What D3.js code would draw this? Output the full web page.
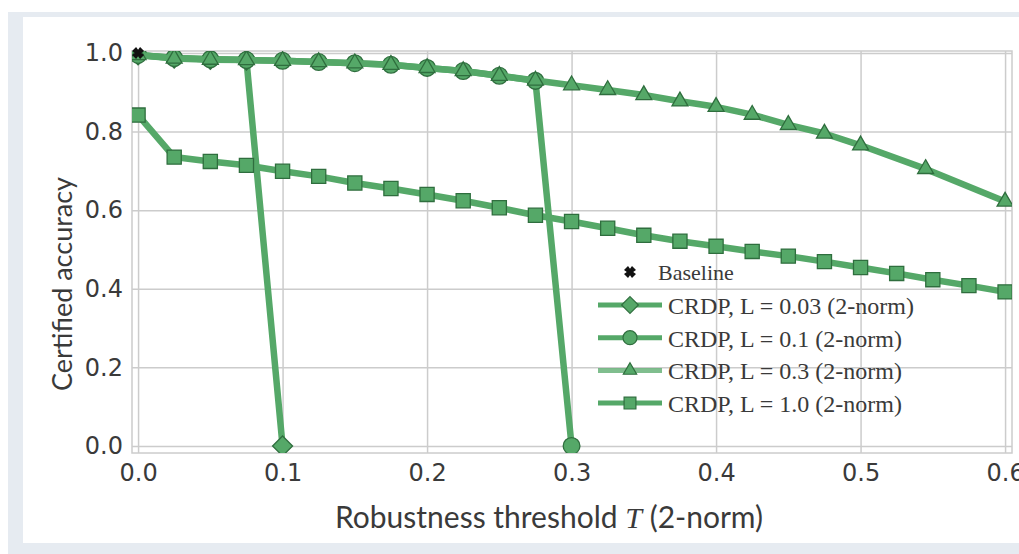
<!DOCTYPE html>
<html>
  <head>
    <meta charset="UTF-8" />
    <style>
      body { margin: 0; background: #fff; }
      text { fill: #3a3a3a; }
    </style>
    <script src="https://d3js.org/d3.v7.min.js"></script>
  </head>
  <body>
    <svg id="svg"></svg>
    <script>
      // data
      var xTicks = [0, 0.1, 0.2, 0.3, 0.4, 0.5, 0.6];
      var yTicks = [0, 0.2, 0.4, 0.6, 0.8, 1.0];

      var baseline = [{ x: 0, y: 1.0 }];

      // L = 0.03
      var l003X = [0, 0.025, 0.05, 0.075, 0.1];
      var l003Y = [0.995, 0.987, 0.984, 0.982, 0.0];

      // L = 0.1
      var l01X = [0, 0.025, 0.05, 0.075, 0.1, 0.125, 0.15, 0.175, 0.2, 0.225, 0.25, 0.275, 0.3];
      var l01Y = [0.995, 0.987, 0.984, 0.982, 0.98, 0.977, 0.974, 0.97, 0.962, 0.954, 0.942, 0.929, 0.0];

      // L = 0.3
      var l03X = [0, 0.025, 0.05, 0.075, 0.1, 0.125, 0.15, 0.175, 0.2, 0.225, 0.25, 0.275,
        0.3, 0.325, 0.35, 0.375, 0.4, 0.425, 0.45, 0.475, 0.5, 0.545, 0.6];
      var l03Y = [0.995, 0.986, 0.983, 0.982, 0.98, 0.977, 0.974, 0.97, 0.962, 0.954, 0.942, 0.93,
        0.918, 0.906, 0.893, 0.877, 0.863, 0.843, 0.817, 0.795, 0.765, 0.705, 0.622];

      // L = 1.0
      var l1X = [0, 0.025, 0.05, 0.075, 0.1, 0.125, 0.15, 0.175, 0.2, 0.225, 0.25, 0.275, 0.3,
        0.325, 0.35, 0.375, 0.4, 0.425, 0.45, 0.475, 0.5, 0.525, 0.55, 0.575, 0.6];
      var l1Y = [0.842, 0.735, 0.724, 0.714, 0.699, 0.686, 0.669, 0.655, 0.64, 0.624, 0.606, 0.587,
        0.571, 0.554, 0.536, 0.521, 0.508, 0.495, 0.483, 0.469, 0.454, 0.439, 0.423, 0.408, 0.392];

      // matplotlib-style "D" marker: a square turned 45 degrees
      var wideDiamond = {
        draw: function (ctx, size) {
          var r = Math.sqrt(size / 2);
          ctx.moveTo(0, -r);
          ctx.lineTo(r, 0);
          ctx.lineTo(0, r);
          ctx.lineTo(-r, 0);
          ctx.closePath();
        },
      };

      // drawing order: bottom first
      var series = [
        { name: "CRDP, L = 0.03 (2-norm)", xs: l003X, ys: l003Y, symbol: wideDiamond, size: 200 },
        { name: "CRDP, L = 0.1 (2-norm)", xs: l01X, ys: l01Y, symbol: d3.symbolCircle, size: 220 },
        { name: "CRDP, L = 0.3 (2-norm)", xs: l03X, ys: l03Y, symbol: d3.symbolTriangle, size: 110 },
        { name: "CRDP, L = 1.0 (2-norm)", xs: l1X, ys: l1Y, symbol: d3.symbolSquare, size: 200 },
      ];

      var green = "#55a868",
        edge = "#2f6e3e",
        grid = "#cccccc";

      var width = 1019,
        height = 554;

      var svg = d3.select("#svg").attr("width", width).attr("height", height);

      // screenshot frame
      svg.append("rect").attr("x", 8).attr("y", 12).attr("width", width - 8).attr("height", height - 12).attr("fill", "#e6ebf1");
      svg.append("rect").attr("x", 23).attr("y", 17).attr("width", width - 23).attr("height", 526).attr("fill", "#fff");

      var pLeft = 132, pRight = 1012, pTop = 51, pBottom = 453;

      var x = d3.scaleLinear().domain([-0.0042, 0.6048]).range([pLeft, pRight]);
      var y = d3.scaleLinear().domain([-0.018, 1.005]).range([pBottom, pTop]);

      svg.append("defs").append("clipPath").attr("id", "clip")
        .append("rect").attr("x", pLeft).attr("y", pTop).attr("width", pRight - pLeft).attr("height", pBottom - pTop);

      // grid
      svg.append("g")
        .attr("transform", "translate(0," + pBottom + ")")
        .call(d3.axisBottom(x).tickValues(xTicks).tickSize(-(pBottom - pTop)).tickFormat(""))
        .call((g) => g.select(".domain").remove())
        .call((g) => g.selectAll("line").attr("stroke", grid).attr("stroke-width", 1.5));
      svg.append("g")
        .attr("transform", "translate(" + pLeft + ",0)")
        .call(d3.axisLeft(y).tickValues(yTicks).tickSize(-(pRight - pLeft)).tickFormat(""))
        .call((g) => g.select(".domain").remove())
        .call((g) => g.selectAll("line").attr("stroke", grid).attr("stroke-width", 1.5));

      // spines
      svg.append("rect")
        .attr("x", pLeft).attr("y", pTop).attr("width", pRight - pLeft).attr("height", pBottom - pTop)
        .attr("fill", "none").attr("stroke", grid).attr("stroke-width", 1.5);

      // tick labels
      svg.append("g")
        .attr("transform", "translate(0," + pBottom + ")")
        .call(d3.axisBottom(x).tickValues(xTicks).tickSize(0).tickPadding(11).tickFormat(d3.format(".1f")))
        .call((g) => g.select(".domain").remove())
        .selectAll("text")
        .style("font-family", "DejaVu Sans")
        .style("font-size", "24px")
        .attr("fill", "#444");
      svg.append("g")
        .attr("transform", "translate(" + pLeft + ",0)")
        .call(d3.axisLeft(y).tickValues(yTicks).tickSize(0).tickPadding(9).tickFormat(d3.format(".1f")))
        .call((g) => g.select(".domain").remove())
        .selectAll("text")
        .style("font-family", "DejaVu Sans")
        .style("font-size", "24px")
        .attr("fill", "#444");

      // axis titles
      var xt = svg.append("text")
        .attr("x", 549).attr("y", 528)
        .attr("text-anchor", "middle")
        .style("font-family", "Lato")
        .style("font-size", "30px");
      xt.append("tspan").text("Robustness threshold ");
      xt.append("tspan").style("font-family", "Liberation Serif").style("font-style", "italic").text("T");
      xt.append("tspan").text(" (2-norm)");

      svg.append("text")
        .attr("transform", "translate(72,284) rotate(-90)")
        .attr("text-anchor", "middle")
        .style("font-family", "Lato")
        .style("font-size", "27px")
        .text("Certified accuracy");

      var plot = svg.append("g").attr("clip-path", "url(#clip)");

      var line = d3.line().x((d) => x(d.x)).y((d) => y(d.y));

      series.forEach((s) => {
        var pts = s.xs.map((v, i) => ({ x: v, y: s.ys[i] }));
        var g = plot.append("g");
        g.append("path")
          .datum(pts)
          .attr("d", line)
          .attr("fill", "none")
          .attr("stroke", green)
          .attr("stroke-width", 6.5)
          .attr("stroke-linejoin", "round");
        g.selectAll(".mk")
          .data(pts)
          .enter()
          .append("path")
          .attr("class", "mk")
          .attr("transform", (d) => "translate(" + x(d.x) + "," + y(d.y) + ")")
          .attr("d", d3.symbol().type(s.symbol).size(s.size))
          .attr("fill", green)
          .attr("stroke", edge)
          .attr("stroke-width", 1.3);
      });

      // baseline marker
      var xMark = "M-2,-6L0,-3.2L2,-6L6,-2L3.2,0L6,2L2,6L0,3.2L-2,6L-6,2L-3.2,0L-6,-2Z";
      svg.append("g")
        .selectAll("path")
        .data(baseline)
        .enter()
        .append("path")
        .attr("transform", (d) => "translate(" + x(d.x) + "," + y(d.y) + ")")
        .attr("d", xMark)
        .attr("fill", "#111");

      // legend
      var lg = svg.append("g");
      lg.append("path").attr("transform", "translate(630,272)").attr("d", xMark).attr("fill", "#111");
      lg.append("text").attr("x", 658).attr("y", 280)
        .style("font-family", "Liberation Serif").style("font-size", "22px").text("Baseline");

      series.forEach((s, i) => {
        var ly = 305 + i * 32.7;
        lg.append("line")
          .attr("x1", 598).attr("x2", 662).attr("y1", ly).attr("y2", ly)
          .attr("stroke", green).attr("stroke-width", 5)
          .attr("stroke-opacity", i === 2 ? 0.75 : 1);
        lg.append("path")
          .attr("transform", "translate(630," + ly + ")")
          .attr("d", d3.symbol().type(s.symbol).size(s.size * 0.7))
          .attr("fill", green)
          .attr("stroke", edge)
          .attr("stroke-width", 1.2);
        lg.append("text")
          .attr("x", 668).attr("y", ly + 9)
          .style("font-family", "Liberation Serif")
          .style("font-size", "24px")
          .text(s.name);
      });
    </script>
  </body>
</html>
